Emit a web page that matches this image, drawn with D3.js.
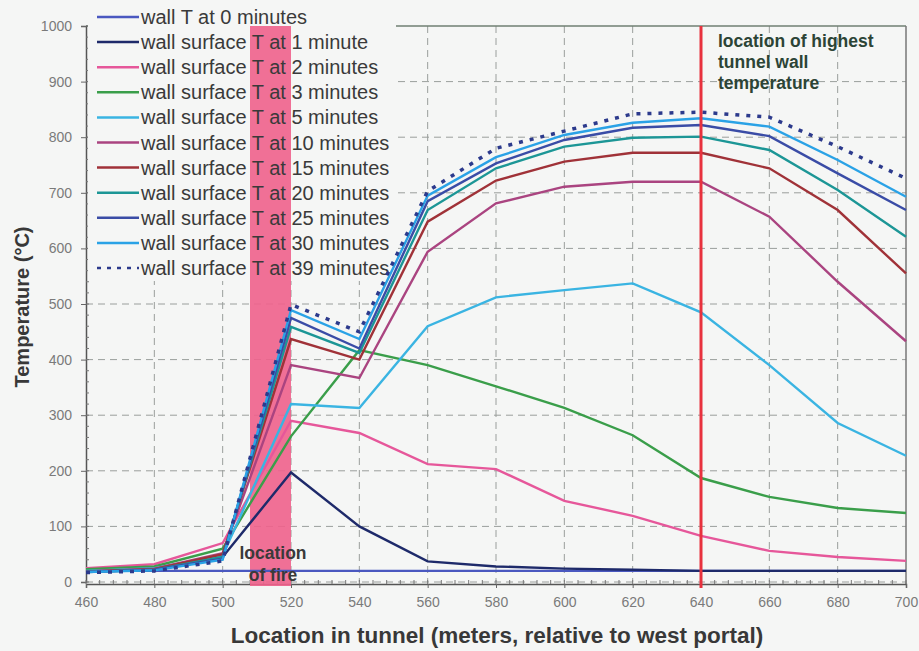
<!DOCTYPE html>
<html>
<head>
<meta charset="utf-8">
<script src="https://d3js.org/d3.v7.min.js"></script>
<style>
  body { margin: 0; background: #f5f6f5; }
  svg { display: block; background: #f5f6f5; }
  .tick text { font-family: "Liberation Sans", Arial, sans-serif; font-size: 14px; fill: #7a7a7a; }
  .legend text { font-family: "Liberation Sans", Arial, sans-serif; font-size: 20px; fill: #3a3a3a; }
  .note { font-family: "Liberation Sans", Arial, sans-serif; font-size: 17.5px; font-weight: bold; }
  .title { font-family: "Liberation Sans", Arial, sans-serif; font-weight: bold; fill: #383838; }
</style>
</head>
<body>
<script>
// location along the tunnel (m)
var locations = [460, 480, 500, 520, 540, 560, 580, 600, 620, 640, 660, 680, 700];

// wall temperatures (deg C) at each location
var t0  = [20, 20, 20, 20, 20, 20, 20, 20, 20, 20, 20, 20, 20];
var t1  = [20, 22, 45, 197, 100, 37, 28, 24, 22, 20, 20, 20, 20];
var t2  = [25, 32, 70, 290, 268, 212, 203, 146, 119, 83, 56, 45, 38];
var t3  = [23, 28, 60, 262, 417, 390, 352, 313, 264, 187, 153, 133, 124];
var t5  = [20, 25, 48, 320, 313, 460, 512, 525, 537, 485, 390, 286, 227];
var t10 = [19, 24, 52, 390, 367, 594, 681, 711, 720, 720, 657, 540, 433];
var t15 = [19, 23, 50, 437, 400, 648, 722, 756, 772, 772, 744, 669, 555];
var t20 = [18, 22, 45, 459, 412, 669, 744, 783, 799, 801, 777, 705, 621];
var t25 = [18, 22, 42, 475, 420, 685, 753, 795, 817, 822, 802, 735, 669];
var t30 = [18, 21, 40, 489, 437, 695, 764, 804, 826, 834, 819, 759, 693];
var t39 = [17, 20, 38, 499, 450, 703, 780, 811, 842, 845, 836, 783, 726];

var seriesNames = [
  "wall T at 0 minutes",
  "wall surface T at 1 minute",
  "wall surface T at 2 minutes",
  "wall surface T at 3 minutes",
  "wall surface T at 5 minutes",
  "wall surface T at 10 minutes",
  "wall surface T at 15 minutes",
  "wall surface T at 20 minutes",
  "wall surface T at 25 minutes",
  "wall surface T at 30 minutes",
  "wall surface T at 39 minutes"
];
var seriesValues = [t0, t1, t2, t3, t5, t10, t15, t20, t25, t30, t39];
var seriesColors = ["#4a58c0", "#1e2a6a", "#e6579a", "#3a9e4a", "#3ab4e2",
                    "#aa4480", "#a03238", "#1c9696", "#3a4ca6", "#2aa2e6", "#2c3a8c"];

var xTicks = [460, 480, 500, 520, 540, 560, 580, 600, 620, 640, 660, 680, 700];
var yTicks = [0, 100, 200, 300, 400, 500, 600, 700, 800, 900, 1000];
var fireZone = [508, 520];
var hottest = 640;

var width = 919, height = 651;

var svg = d3.select("body").append("svg")
  .attr("width", width)
  .attr("height", height);

var x = d3.scaleLinear().domain([460, 700]).range([86, 906]);
var y = d3.scaleLinear().domain([0, 1000]).range([582, 26]);

// grid
var grid = svg.append("g").attr("stroke", "#9a9e9c").attr("stroke-dasharray", "7,5").attr("stroke-width", 1);
grid.selectAll(".gx").data(xTicks.slice(1, -1)).enter().append("line")
  .attr("x1", d => x(d)).attr("x2", d => x(d)).attr("y1", y(1000)).attr("y2", y(0));
grid.selectAll(".gy").data(yTicks.slice(0, -1)).enter().append("line")
  .attr("x1", x(460)).attr("x2", x(700)).attr("y1", d => y(d)).attr("y2", d => y(d));

// frame top / right
svg.append("line").attr("x1", x(460)).attr("x2", x(700)).attr("y1", y(1000)).attr("y2", y(1000))
  .attr("stroke", "#6f7f72").attr("stroke-width", 1.5);
svg.append("line").attr("x1", x(700)).attr("x2", x(700)).attr("y1", y(1000)).attr("y2", y(0) + 2)
  .attr("stroke", "#777").attr("stroke-width", 1.5);

// axes
var xAxis = svg.append("g").attr("transform", "translate(0," + (y(0) + 2) + ")")
  .call(d3.axisBottom(x).tickValues(xTicks).tickFormat(d3.format("d")).tickSize(4).tickPadding(9));
var yAxis = svg.append("g").attr("transform", "translate(" + x(460) + ",0)")
  .call(d3.axisLeft(y).tickValues(yTicks).tickFormat(d3.format("d")).tickSize(5).tickPadding(9));
[xAxis, yAxis].forEach(function(a) {
  a.select(".domain").attr("stroke", "#555").attr("stroke-width", 1.5);
  a.selectAll(".tick line").attr("stroke", "#666");
});
// minor ticks
svg.append("g").selectAll("line").data(d3.range(460, 701, 4)).enter().append("line")
  .attr("x1", d => x(d)).attr("x2", d => x(d)).attr("y1", y(0) + 2).attr("y2", y(0) - 2)
  .attr("stroke", "#777");
svg.append("g").selectAll("line").data(d3.range(0, 1001, 20)).enter().append("line")
  .attr("x1", x(460)).attr("x2", x(460) + 3).attr("y1", d => y(d)).attr("y2", d => y(d))
  .attr("stroke", "#777");

// legend background
svg.append("rect").attr("x", 88).attr("y", 0).attr("width", 308).attr("height", 281)
  .attr("fill", "#f5f6f5");

// fire zone
svg.append("rect")
  .attr("x", x(fireZone[0])).attr("width", x(fireZone[1]) - x(fireZone[0]))
  .attr("y", y(1000)).attr("height", y(0) - y(1000) + 4)
  .attr("fill", "#f0628c").attr("opacity", 0.9);

// legend
var legend = svg.append("g").attr("class", "legend");
var row = legend.selectAll("g").data(seriesNames).enter().append("g")
  .attr("transform", (d, i) => "translate(0," + (17 + i * 25.1) + ")");
row.append("line").attr("x1", 97).attr("x2", 139).attr("y1", 0).attr("y2", 0)
  .attr("stroke", (d, i) => seriesColors[i]).attr("stroke-width", 2.5)
  .attr("stroke-dasharray", (d, i) => i === 10 ? "4,6" : null);
row.append("text").attr("x", 141).attr("y", 7).text(d => d);

// lines
var line = d3.line().x((d, i) => x(locations[i])).y(d => y(d));
svg.append("g").selectAll("path").data(seriesValues).enter().append("path")
  .attr("d", line)
  .attr("fill", "none")
  .attr("stroke", (d, i) => seriesColors[i])
  .attr("stroke-width", (d, i) => i === 10 ? 3.5 : 2.4)
  .attr("stroke-dasharray", (d, i) => i === 10 ? "4,7" : null);

// highest temperature marker
svg.append("line").attr("x1", x(hottest)).attr("x2", x(hottest)).attr("y1", y(1000)).attr("y2", y(0) + 6)
  .attr("stroke", "#e8323e").attr("stroke-width", 3);

// notes
svg.append("text").attr("class", "note").attr("fill", "#2c4436")
  .selectAll("tspan").data(["location of highest", "tunnel wall", "temperature"]).enter().append("tspan")
  .attr("x", 718).attr("y", (d, i) => 47 + i * 21).text(d => d);
svg.append("text").attr("class", "note").attr("fill", "#3a3a3a").attr("text-anchor", "middle")
  .selectAll("tspan").data(["location", "of fire"]).enter().append("tspan")
  .attr("x", 273).attr("y", (d, i) => 559 + i * 22).text(d => d);

// axis titles
svg.append("text").attr("class", "title").attr("font-size", 22.5)
  .attr("x", 497).attr("y", 643).attr("text-anchor", "middle")
  .text("Location in tunnel (meters, relative to west portal)");
svg.append("text").attr("class", "title").attr("font-size", 20)
  .attr("transform", "translate(29,307) rotate(-90)").attr("text-anchor", "middle")
  .text("Temperature (°C)");
</script>
</body>
</html>
